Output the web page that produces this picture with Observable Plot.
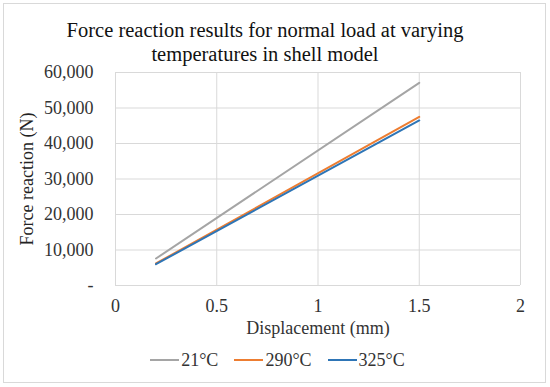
<!DOCTYPE html>
<html>
<head>
<meta charset="utf-8">
<script src="https://cdn.jsdelivr.net/npm/d3@7"></script>
<script src="https://cdn.jsdelivr.net/npm/@observablehq/plot@0.6"></script>
<style>
  body { margin: 0; background: #fff; }
  #wrap { position: relative; width: 550px; height: 387px; font-family: "Liberation Serif", serif; }
  #border { position: absolute; left: 3px; top: 3px; width: 543px; height: 380px; border: 1px solid #d9d9d9; box-sizing: border-box; }
  #title { position: absolute; left: 0; top: 17.5px; width: 550px; padding-right: 20px; box-sizing: border-box; text-align: center; font-family: "Liberation Serif", serif; font-size: 20.5px; line-height: 24px; color: #111; }
  #chart { position: absolute; left: 0; top: 50px; }
  #chart svg text { font-family: "Liberation Serif", serif !important; }
  #chart svg [aria-label="x-axis tick label"] text,
  #chart svg [aria-label="y-axis tick label"] text,
  #chart svg [aria-label="x-axis label"] text { font-size: 18px !important; }
  #legend { position: absolute; left: 0; top: 350px; width: 550px; display: flex; justify-content: center; gap: 16px; font-family: "Liberation Serif", serif; font-size: 18px; line-height: 20px; color: #333; padding-left: 5px; box-sizing: border-box; }
  .item { display: flex; align-items: center; }
  .sw { display: inline-block; width: 29px; height: 2px; margin-right: 2px; }
</style>
</head>
<body>
<div id="wrap">
  <div id="border"></div>
  <div id="title">Force reaction results for normal load at varying<br>temperatures in shell model</div>
  <div id="chart"></div>
  <div id="legend"></div>
</div>
<script>
const seriesNames = ["21°C", "290°C", "325°C"];
const seriesColors = ["#a5a5a5", "#ed7d31", "#2e75b6"];
const displacement = [0.2, 1.5];
const force21 = [7600, 57100];
const force290 = [6200, 47500];
const force325 = [6000, 46500];
const xTicks = [0, 0.5, 1, 1.5, 2];
const yTicks = [0, 10000, 20000, 30000, 40000, 50000, 60000];

const seriesValues = [force21, force290, force325];
const data = [];
seriesNames.forEach((name, i) => {
  displacement.forEach((d, j) => data.push({series: name, x: d, y: seriesValues[i][j]}));
});

const fmt = d3.format(",");
const xFmt = d => String(d);
const yFmt = d => d === 0 ? "-" : fmt(d);
const chart = Plot.plot({
  width: 550,
  height: 290,
  marginLeft: 115,
  marginRight: 30,
  marginTop: 22,
  marginBottom: 55,
  style: { fontFamily: "Liberation Serif", fontSize: "18px", color: "#333", background: "transparent", overflow: "visible" },
  x: { domain: [0, 2] },
  y: { domain: [0, 60000] },
  color: { domain: seriesNames, range: seriesColors },
  marks: [
    Plot.gridX(xTicks, { stroke: "#d9d9d9", strokeOpacity: 1, strokeWidth: 1 }),
    Plot.gridY(yTicks, { stroke: "#d9d9d9", strokeOpacity: 1, strokeWidth: 1 }),
    Plot.axisX({ ticks: xTicks, tickFormat: xFmt, tickSize: 0, tickPadding: 14, fontSize: 18, fill: "#333", label: "Displacement (mm)", labelAnchor: "center", labelArrow: "none", labelOffset: 48 }),
    Plot.axisY({ ticks: yTicks, tickFormat: yFmt, tickSize: 0, tickPadding: 22, fontSize: 18, fill: "#333", label: null }),
    Plot.text(["Force reaction (N)"], { frameAnchor: "left", textAnchor: "middle", dx: -88, rotate: -90, fontSize: 18, fill: "#222" }),
    Plot.line(data, { x: "x", y: "y", z: "series", stroke: "series", strokeWidth: 2 })
  ]
});
document.getElementById("chart").appendChild(chart);

const legend = document.getElementById("legend");
seriesNames.forEach((n, i) => {
  const it = document.createElement("div");
  it.className = "item";
  it.innerHTML = `<span class="sw" style="background:${seriesColors[i]}"></span><span>${n}</span>`;
  legend.appendChild(it);
});
</script>
</body>
</html>
